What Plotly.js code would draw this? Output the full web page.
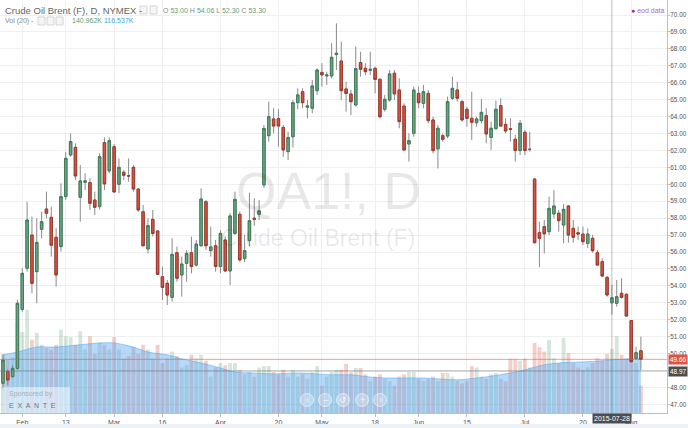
<!DOCTYPE html>
<html><head><meta charset="utf-8">
<script src="https://cdn.plot.ly/plotly-3.0.1.min.js"></script>
<style>html,body{margin:0;padding:0;background:#fff;overflow:hidden}#chart{width:688px;height:428px}</style>
</head><body><div id="chart"></div>
<script>
const dates = [
'2015-01-27','2015-01-28','2015-01-29','2015-01-30',
'2015-02-02','2015-02-03','2015-02-04','2015-02-05','2015-02-06',
'2015-02-09','2015-02-10','2015-02-11','2015-02-12','2015-02-13',
'2015-02-17','2015-02-18','2015-02-19','2015-02-20',
'2015-02-23','2015-02-24','2015-02-25','2015-02-26','2015-02-27',
'2015-03-02','2015-03-03','2015-03-04','2015-03-05','2015-03-06',
'2015-03-09','2015-03-10','2015-03-11','2015-03-12','2015-03-13',
'2015-03-16','2015-03-17','2015-03-18','2015-03-19','2015-03-20',
'2015-03-23','2015-03-24','2015-03-25','2015-03-26','2015-03-27',
'2015-03-30','2015-03-31',
'2015-04-01','2015-04-02',
'2015-04-06','2015-04-07','2015-04-08','2015-04-09','2015-04-10',
'2015-04-13','2015-04-14','2015-04-15','2015-04-16','2015-04-17',
'2015-04-20','2015-04-21','2015-04-22','2015-04-23','2015-04-24',
'2015-04-27','2015-04-28','2015-04-29','2015-04-30',
'2015-05-01',
'2015-05-04','2015-05-05','2015-05-06','2015-05-07','2015-05-08',
'2015-05-11','2015-05-12','2015-05-13','2015-05-14','2015-05-15',
'2015-05-18','2015-05-19','2015-05-20','2015-05-21','2015-05-22',
'2015-05-26','2015-05-27','2015-05-28','2015-05-29',
'2015-06-01','2015-06-02','2015-06-03','2015-06-04','2015-06-05',
'2015-06-08','2015-06-09','2015-06-10','2015-06-11','2015-06-12',
'2015-06-15','2015-06-16','2015-06-17','2015-06-18','2015-06-19',
'2015-06-22','2015-06-23','2015-06-24','2015-06-25','2015-06-26',
'2015-06-29','2015-06-30',
'2015-07-01','2015-07-02',
'2015-07-06','2015-07-07','2015-07-08','2015-07-09','2015-07-10',
'2015-07-13','2015-07-14','2015-07-15','2015-07-16','2015-07-17',
'2015-07-20','2015-07-21','2015-07-22','2015-07-23','2015-07-24',
'2015-07-27','2015-07-28','2015-07-29','2015-07-30','2015-07-31',
'2015-08-03','2015-08-04','2015-08-05'];

const open = [48.25,48.93,48.64,49.13,
52.61,55.04,57.00,54.84,57.34,
58.54,58.05,56.87,56.32,59.27,
61.73,62.18,59.23,60.12,
60.10,59.07,58.68,62.46,60.79,
62.22,60.00,60.71,60.50,61.00,
59.72,58.38,56.18,57.93,57.24,
54.54,54.15,53.32,55.96,54.64,
55.33,55.96,55.23,56.37,58.97,
56.08,56.37,
55.14,56.71,
54.88,57.10,58.23,55.61,56.67,
58.00,58.23,59.96,62.87,63.86,
63.88,63.36,61.93,62.81,64.82,
65.47,64.55,64.49,65.53,
66.61,
66.40,66.40,67.66,67.28,65.63,
65.33,64.68,67.19,66.85,66.73,
66.85,66.20,64.43,64.98,66.56,
65.57,64.62,62.38,63.01,
65.37,64.78,65.37,63.80,62.09,
62.87,62.85,65.08,65.57,64.88,
64.43,63.90,63.64,63.76,64.05,
62.77,63.29,64.65,63.54,63.28,
62.66,61.99,
63.07,62.05,
60.31,57.14,57.50,57.20,58.25,
58.29,57.59,58.72,57.40,57.14,
57.06,56.51,56.81,55.96,55.43,
54.50,53.00,52.97,53.56,53.50,
51.95,49.72,50.17];

const high = [49.92,49.10,49.33,53.17,
55.04,58.97,58.09,57.99,58.38,
59.57,58.68,57.40,60.06,61.90,
63.00,62.42,61.14,60.65,
60.35,59.57,61.83,62.77,62.77,
62.38,61.53,60.84,61.53,61.14,
59.76,58.78,57.99,58.48,57.30,
55.14,54.35,56.81,56.32,55.73,
56.12,56.91,56.71,59.76,59.07,
57.50,56.71,
57.30,56.91,
58.29,59.57,58.38,57.00,59.50,
59.17,59.07,63.50,64.88,64.49,
64.43,63.50,63.11,64.98,65.67,
65.67,64.98,66.16,66.85,
67.15,
66.65,68.33,69.51,68.43,66.06,
65.57,68.13,67.83,67.15,67.83,
66.95,66.26,65.28,66.75,66.75,
66.26,64.78,63.01,65.77,
65.77,65.87,65.57,63.99,63.50,
63.01,65.18,66.36,66.06,64.98,
64.59,65.47,63.99,65.02,64.49,
63.70,64.94,65.08,63.90,63.90,
62.91,63.80,
63.21,63.11,
60.35,57.79,57.89,59.27,59.66,
58.48,58.84,58.78,57.89,57.50,
57.50,57.40,57.00,56.12,55.63,
54.58,54.06,54.35,54.45,53.56,
51.98,50.41,51.00];

const low = [47.95,48.15,48.54,49.04,
52.47,54.84,53.56,52.97,56.81,
57.99,55.73,53.95,56.02,59.07,
61.63,60.25,57.79,59.66,
58.48,58.19,58.50,59.66,60.65,
59.47,59.47,60.25,60.15,59.57,
58.38,56.32,55.92,56.91,54.64,
53.17,52.87,53.07,54.25,53.36,
54.25,54.74,55.14,56.32,56.12,
55.73,54.84,
54.74,54.84,
54.05,57.00,55.43,55.40,56.32,
57.54,57.89,59.80,62.52,63.01,
62.22,61.63,61.43,62.18,64.43,
64.49,63.90,64.19,65.28,
65.77,
65.87,66.26,66.75,64.98,64.29,
64.09,64.60,66.36,66.46,66.46,
65.37,63.90,64.29,64.88,64.98,
63.31,61.95,61.34,62.81,
64.49,64.49,63.60,61.83,60.94,
62.52,62.72,64.98,64.88,63.70,
63.40,62.62,63.40,63.60,62.42,
62.03,63.21,63.40,63.01,62.52,
61.34,61.73,
61.73,61.93,
56.51,55.10,55.92,57.00,57.99,
57.20,56.51,56.55,56.55,56.71,
56.41,56.22,55.96,55.17,54.54,
53.36,52.30,52.77,53.26,52.18,
49.46,49.62,49.03];

const close = [49.62,48.44,49.13,52.97,
54.74,57.89,54.15,56.57,57.79,
58.29,56.40,54.64,59.27,61.53,
62.52,60.49,60.20,60.20,
58.88,58.64,61.63,60.02,62.58,
59.55,61.00,60.53,60.49,59.72,
58.48,56.37,57.56,57.10,54.68,
53.91,53.46,55.86,54.45,55.29,
55.92,55.14,56.47,59.13,56.37,
56.30,55.14,
57.10,54.88,
58.13,59.11,55.53,56.08,57.85,
57.93,58.43,63.30,63.99,63.44,
63.44,62.03,62.77,64.82,65.28,
64.82,64.63,65.81,66.75,
66.46,
66.46,67.50,67.74,65.53,65.37,
64.88,66.83,66.79,66.65,66.79,
66.20,63.99,65.02,66.52,65.34,
63.70,62.03,62.58,65.57,
64.82,65.47,63.76,61.99,63.31,
62.66,64.88,65.67,65.08,63.80,
63.90,63.66,63.86,64.25,62.97,
63.31,64.43,63.44,63.15,63.25,
61.99,63.60,
61.99,62.07,
56.55,56.81,57.07,58.58,58.72,
57.85,58.52,57.00,56.87,57.06,
56.61,57.06,56.08,55.23,54.58,
53.46,53.30,53.36,53.32,52.22,
49.52,50.05,49.66];

// volume in thousands of contracts
const volume = [130,118,122,200,
178,227,161,176,150,
143,139,150,183,169,
167,150,180,140,
169,130,155,150,140,
167,140,120,125,145,
130,150,140,120,150,
110,120,135,125,100,
105,128,120,128,115,
80,100,
110,105,
110,110,95,85,90,
80,100,103,103,90,
85,95,80,95,80,
85,75,90,103,
60,
80,90,95,95,108,
90,99,99,85,70,
80,85,75,70,60,
80,85,90,90,
75,70,75,80,70,
88,88,80,70,65,
70,103,100,80,75,
85,88,75,70,119,
118,115,
119,100,
154,145,135,161,120,
110,165,132,110,100,
95,100,110,120,115,
130,141,169,128,120,
150,110,60];

// Vol (20) moving average, read at sample dates
const maDates = ['2015-01-27','2015-01-30','2015-02-05','2015-02-11','2015-02-19','2015-02-25','2015-03-02','2015-03-06',
'2015-03-11','2015-03-17','2015-03-20','2015-03-26','2015-04-01','2015-04-07','2015-04-13','2015-04-17','2015-04-24','2015-04-30',
'2015-05-05','2015-05-11','2015-05-15','2015-05-20','2015-05-27','2015-06-02','2015-06-05','2015-06-11','2015-06-17','2015-06-22',
'2015-06-26','2015-07-01','2015-07-08','2015-07-13','2015-07-17','2015-07-23','2015-07-28','2015-08-03','2015-08-05'];
const maValues = [128,134,145,145,150,154,154,145,134,128,119,110,99,90,88,86,88,86,84,84,79,77,77,77,75,73,77,81,88,95,106,110,112,114,117,119,121];

const tickDates = ['2015-02-02','2015-02-13','2015-03-02','2015-03-16','2015-04-01','2015-04-20','2015-05-01','2015-05-18','2015-06-01','2015-06-15','2015-07-01','2015-07-20','2015-08-03'];
const tickLabels = ['Feb','13','Mar','16','Apr','20','May','18','Jun','15','Jul','20','Aug'];

// ---- build ----
const idx = dates.map((d,i)=>i);
const PW = 667, PH = 413;
const px = v => v / PW;
const py = v => (PH - v) / PH;
const FONT = 'Liberation Sans, Arial, sans-serif';
const UP = '#6ba583', DOWN = '#d75442';

const volColors = close.map((c,i)=> c >= open[i] ? 'rgba(107,165,131,0.28)' : 'rgba(215,84,66,0.28)');
const bodyHigh = open.map((o,i)=>Math.max(o, close[i]));
const bodyLow = open.map((o,i)=>Math.min(o, close[i]));

const traces = [
  {type:'bar', x: idx, y: volume, xaxis:'x', yaxis:'y', width:0.8,
   marker:{color: volColors, line:{width:0}}, hoverinfo:'skip', showlegend:false},
  {type:'scatter', mode:'lines', x: maDates.map(d=>dates.indexOf(d)), y: maValues, xaxis:'x', yaxis:'y',
   fill:'tozeroy', fillcolor:'rgba(80,165,240,0.42)', line:{color:'rgba(80,165,240,0.5)', width:1, shape:'spline'},
   hoverinfo:'skip', showlegend:false},
  {type:'candlestick', x: idx, open: open, high: high, low: low, close: close, xaxis:'x', yaxis:'y2',
   increasing:{line:{color:'#8a8a8c', width:1}, fillcolor:'#8a8a8c'},
   decreasing:{line:{color:'#8a8a8c', width:1}, fillcolor:'#8a8a8c'},
   whiskerwidth:0, hoverinfo:'skip', showlegend:false},
  {type:'candlestick', x: idx, open: open, high: bodyHigh, low: bodyLow, close: close, xaxis:'x', yaxis:'y2',
   increasing:{line:{color:'#3f7d5a', width:1}, fillcolor: UP},
   decreasing:{line:{color:'#9e3a2e', width:1}, fillcolor: DOWN},
   whiskerwidth:0, hoverinfo:'skip', showlegend:false}
];

const shapes = [];
const annotations = [];

// last price line and crosshair
shapes.push({type:'line', xref:'paper', x0:0, x1:1, yref:'y2', y0:49.66, y1:49.66, line:{color:'rgba(215,84,66,0.55)', width:1}});
shapes.push({type:'line', xref:'paper', x0:0, x1:1, yref:'y2', y0:48.97, y1:48.97, line:{color:'rgba(110,110,110,0.55)', width:1}});
shapes.push({type:'line', xref:'x', x0:dates.indexOf('2015-07-28'), x1:dates.indexOf('2015-07-28'), yref:'paper', y0:0, y1:1, line:{color:'rgba(110,110,110,0.45)', width:1}});

// header icon boxes
[[140,147,6,14],[150,157,6,14],[38,45,17,25],[47,54,17,25],[56,63,17,25]].forEach(b=>{
  shapes.push({type:'rect', xref:'paper', yref:'paper', x0:px(b[0]), x1:px(b[1]), y0:py(b[3]), y1:py(b[2]),
    line:{color:'#d5d5d5', width:1}, fillcolor:'#f5f5f5'});
});

// sponsored box
shapes.push({type:'rect', xref:'paper', yref:'paper', x0:px(3), x1:px(70), y0:py(413), y1:py(387),
  line:{width:0}, fillcolor:'rgba(255,255,255,0.5)'});

// navigation buttons
const navX = [307,325,343,362,380], navSym = ['\u2039','\u2212','\u21BA','+','\u203A'];
navX.forEach((cx,k)=>{
  shapes.push({type:'circle', xref:'paper', yref:'paper', x0:px(cx-6.5), x1:px(cx+6.5), y0:py(406.5), y1:py(393.5),
    line:{color:'rgba(255,255,255,0.55)', width:1}, fillcolor:'rgba(255,255,255,0.28)'});
  annotations.push({xref:'paper', yref:'paper', x:px(cx), y:py(400), text:navSym[k], showarrow:false,
    xanchor:'center', yanchor:'middle', font:{family:FONT, size:9, color:'rgba(255,255,255,0.85)'}});
});

// bottom band
shapes.push({type:'rect', xref:'paper', yref:'paper', x0:0, x1:688/PW, y0:py(428), y1:py(424),
  line:{width:0}, fillcolor:'#eef1f5'});

// watermark
annotations.push({xref:'paper', yref:'paper', x:px(328), y:py(191), text:'QA1!, D', showarrow:false,
  xanchor:'center', yanchor:'middle', font:{family:FONT, size:52, color:'rgba(0,0,0,0.09)'}});
annotations.push({xref:'paper', yref:'paper', x:px(318), y:py(238), text:'Crude Oil Brent (F)', showarrow:false,
  xanchor:'center', yanchor:'middle', font:{family:FONT, size:23, color:'rgba(0,0,0,0.09)'}});

// header legend
annotations.push({xref:'paper', yref:'paper', x:px(3), y:py(10), text:'Crude Oil Brent (F), D, NYMEX -', showarrow:false,
  xanchor:'left', yanchor:'middle', font:{family:FONT, size:9.5, color:'#666'}});
const g = v => '<span style="color:#5f9e7a">'+v+'</span>';
annotations.push({xref:'paper', yref:'paper', x:px(161), y:py(10),
  text:'O '+g('53.00')+' H '+g('54.06')+' L '+g('52.30')+' C '+g('53.30'), showarrow:false,
  xanchor:'left', yanchor:'middle', font:{family:FONT, size:7, color:'#888'}});
annotations.push({xref:'paper', yref:'paper', x:px(3), y:py(21), text:'Vol (20) -', showarrow:false,
  xanchor:'left', yanchor:'middle', font:{family:FONT, size:7, color:'#888'}});
annotations.push({xref:'paper', yref:'paper', x:px(70), y:py(21), text:'140.962K', showarrow:false,
  xanchor:'left', yanchor:'middle', font:{family:FONT, size:7, color:'#5f9e7a'}});
annotations.push({xref:'paper', yref:'paper', x:px(102), y:py(21), text:'116.537K', showarrow:false,
  xanchor:'left', yanchor:'middle', font:{family:FONT, size:7, color:'#4aa3df'}});
annotations.push({xref:'paper', yref:'paper', x:px(629), y:py(10),
  text:'<span style="color:#9c27b0">\u25CF</span> eod data', showarrow:false,
  xanchor:'left', yanchor:'middle', font:{family:FONT, size:7, color:'#b36bc4'}});

// sponsored text
annotations.push({xref:'paper', yref:'paper', x:px(7), y:py(394), text:'Sponsored by', showarrow:false,
  xanchor:'left', yanchor:'middle', font:{family:FONT, size:7, color:'#a8b0b8'}});
annotations.push({xref:'paper', yref:'paper', x:px(7), y:py(405), text:'E  X  A  N  T  E', showarrow:false,
  xanchor:'left', yanchor:'middle', font:{family:FONT, size:7, color:'#6d7680'}});

// right-axis price labels
annotations.push({xref:'paper', yref:'y2', x:px(668), y:49.66, text:'49.66', showarrow:false,
  xanchor:'left', yanchor:'middle', bgcolor:'#dd5446', borderpad:1, font:{family:FONT, size:6.4, color:'#fff'}});
annotations.push({xref:'paper', yref:'y2', x:px(668), y:48.97, text:'48.97', showarrow:false,
  xanchor:'left', yanchor:'middle', bgcolor:'#4d4d4d', borderpad:1, font:{family:FONT, size:6.4, color:'#fff'}});
// crosshair date label
annotations.push({xref:'x', yref:'paper', x:dates.indexOf('2015-07-28'), y:py(419), text:'2015-07-28', showarrow:false,
  xanchor:'center', yanchor:'middle', bgcolor:'#4d4d4d', borderpad:1, font:{family:FONT, size:7, color:'#fff'}});

const layout = {
  width:688, height:428,
  margin:{l:0, r:21, t:0, b:15, pad:0},
  paper_bgcolor:'#fff', plot_bgcolor:'#fff',
  showlegend:false, dragmode:false, hovermode:false,
  boxgap:0.28,
  font:{family:FONT, size:7, color:'#555'},
  xaxis:{type:'linear', range:[-0.61, 137.4], tickmode:'array',
    tickvals: tickDates.map(d=>dates.indexOf(d)), ticktext: tickLabels,
    showgrid:true, gridcolor:'#efefef', gridwidth:1, zeroline:false,
    showline:true, linecolor:'#bfbfbf', linewidth:1, ticks:'outside', ticklen:3, tickcolor:'#bfbfbf',
    tickfont:{family:FONT, size:7, color:'#555'}, rangeslider:{visible:false}, fixedrange:true, automargin:false},
  yaxis:{range:[0, 908], visible:false, showgrid:false, zeroline:false, fixedrange:true},
  yaxis2:{overlaying:'y', side:'right', range:[46.49, 70.886], tickmode:'linear', tick0:0, dtick:1, tickformat:'.2f',
    showgrid:true, gridcolor:'#efefef', gridwidth:1, zeroline:false,
    showline:true, linecolor:'#bfbfbf', linewidth:1, ticks:'outside', ticklen:2, tickcolor:'#bfbfbf',
    ticklabelstandoff:-1,
    tickfont:{family:FONT, size:6.4, color:'#555'}, fixedrange:true, automargin:false},
  shapes: shapes,
  annotations: annotations
};

Plotly.newPlot('chart', traces, layout, {staticPlot:true, displayModeBar:false});
</script>
</body></html>
